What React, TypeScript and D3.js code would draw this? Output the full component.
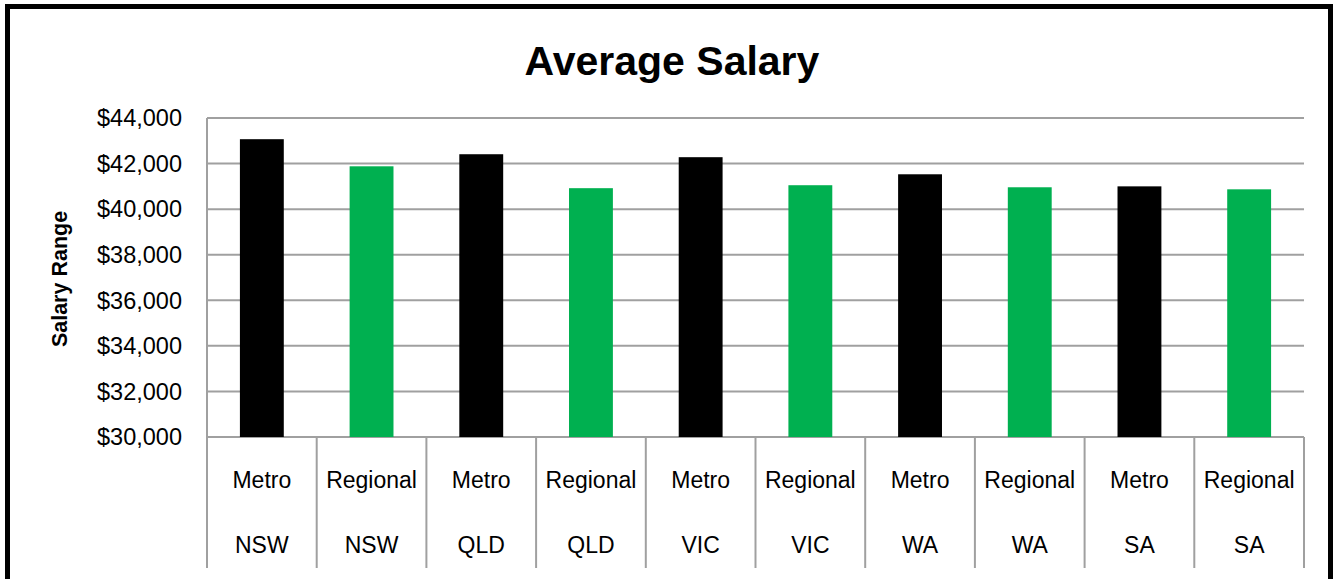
import React from "react";
import * as d3 from "d3";

const regions = ["NSW", "NSW", "QLD", "QLD", "VIC", "VIC", "WA", "WA", "SA", "SA"];
const areas = ["Metro", "Regional", "Metro", "Regional", "Metro", "Regional", "Metro", "Regional", "Metro", "Regional"];
const salaries = [43070, 41880, 42410, 40920, 42280, 41050, 41530, 40960, 41000, 40870];
const yTicks = [30000, 32000, 34000, 36000, 38000, 40000, 42000, 44000];
const colors: Record<string, string> = { Metro: "#000000", Regional: "#00B050" };

const W = 1334;
const H = 579;
const left = 207;
const right = 1304;
const top = 118;
const bottom = 437;
const FONT = "'Liberation Sans', Arial, sans-serif";

export default function App() {
  const idx = salaries.map((_, i) => String(i));
  const x = d3.scaleBand<string>().domain(idx).range([left, right]).paddingInner(0).paddingOuter(0);
  const y = d3.scaleLinear().domain([30000, 44000]).range([bottom, top]);
  const bw = x.bandwidth();
  const barW = bw * 0.4;
  const fmt = (v: number) => "$" + d3.format(",")(v);

  return (
    <svg width={W} height={H} style={{ position: "absolute", left: 0, top: 0, background: "#fff" }}>
      <rect x={7.5} y={6.5} width={1323} height={600} fill="#fff" stroke="#000" strokeWidth={5} />
      <text x={672} y={75} textAnchor="middle" fontFamily={FONT} fontWeight="bold" fontSize={41} fill="#000">
        Average Salary
      </text>
      <text
        transform={`translate(67,279) rotate(-90)`}
        textAnchor="middle"
        fontFamily={FONT}
        fontWeight="bold"
        fontSize={21.5}
        fill="#000"
      >
        Salary Range
      </text>
      {yTicks.map((t) => (
        <g key={t}>
          <line x1={left} x2={right} y1={y(t)} y2={y(t)} stroke="#a0a0a0" strokeWidth={2} />
          <text x={182} y={y(t)} dy="0.35em" textAnchor="end" fontFamily={FONT} fontSize={23.5} fill="#000">
            {fmt(t)}
          </text>
        </g>
      ))}
      <line x1={left} x2={left} y1={top} y2={bottom} stroke="#a0a0a0" strokeWidth={2} />
      {salaries.map((v, i) => {
        const cx = (x(String(i)) as number) + bw / 2;
        return (
          <rect
            key={i}
            x={cx - barW / 2}
            y={y(v)}
            width={barW}
            height={bottom - y(v)}
            fill={colors[areas[i]]}
          />
        );
      })}
      {d3.range(salaries.length + 1).map((i) => {
        const xx = left + i * bw;
        return <line key={"d" + i} x1={xx} x2={xx} y1={bottom} y2={568} stroke="#a0a0a0" strokeWidth={2} />;
      })}
      {salaries.map((_, i) => {
        const cx = (x(String(i)) as number) + bw / 2;
        return (
          <g key={"l" + i}>
            <text x={cx} y={480} dy="0.35em" textAnchor="middle" fontFamily={FONT} fontSize={23} fill="#000">
              {areas[i]}
            </text>
            <text x={cx} y={545} dy="0.35em" textAnchor="middle" fontFamily={FONT} fontSize={23} fill="#000">
              {regions[i]}
            </text>
          </g>
        );
      })}
    </svg>
  );
}
